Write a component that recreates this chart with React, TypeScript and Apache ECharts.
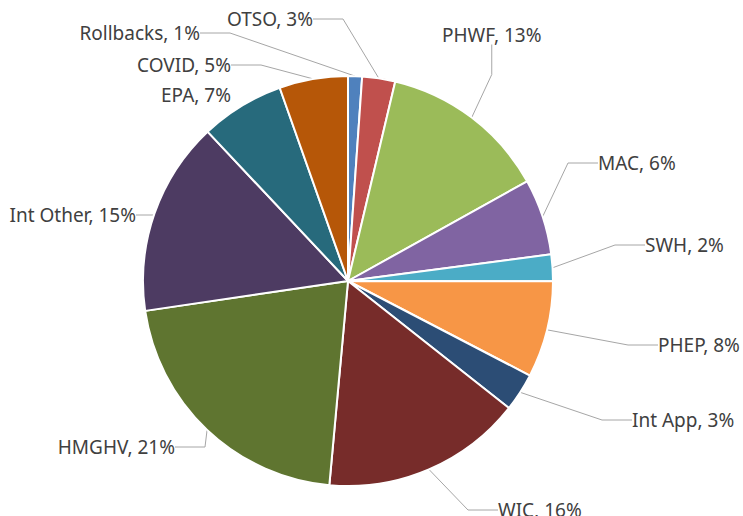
import React, { useEffect, useRef } from "react";
import * as echarts from "echarts";

const categories = ["Rollbacks", "OTSO", "PHWF", "MAC", "SWH", "PHEP", "Int App", "WIC", "HMGHV", "Int Other", "EPA", "COVID"];
const values = [1.1, 2.6, 13.2, 6.0, 2.1, 7.6, 3.0, 15.8, 21.2, 15.3, 6.6, 5.4];
const colors = ["#4F81BD", "#C0504D", "#9BBB59", "#8064A2", "#4BACC6", "#F79646", "#2C4D75", "#772C2A", "#5F7530", "#4D3B62", "#276A7C", "#B65708"];

// label placement (x, y of text anchor, alignment, leader line)
const labelPlacement: { x: number; y: number; align: "left" | "right"; line: boolean }[] = [
  { x: 200, y: 33, align: "right", line: true },   // Rollbacks
  { x: 313, y: 19, align: "right", line: true },   // OTSO
  { x: 442, y: 35, align: "left", line: true },    // PHWF
  { x: 598, y: 163, align: "left", line: true },   // MAC
  { x: 645, y: 245, align: "left", line: true },   // SWH
  { x: 658, y: 345, align: "left", line: true },   // PHEP
  { x: 632, y: 420, align: "left", line: true },   // Int App
  { x: 498, y: 510, align: "left", line: true },   // WIC
  { x: 175, y: 447, align: "right", line: true },  // HMGHV
  { x: 136, y: 215, align: "right", line: true },  // Int Other
  { x: 231, y: 95, align: "right", line: false },  // EPA
  { x: 231, y: 65, align: "right", line: true },   // COVID
];

export default function App() {
  const ref = useRef<HTMLDivElement>(null);
  useEffect(() => {
    document.body.style.margin = "0";
    const chart = echarts.init(ref.current!, null, { renderer: "svg" });
    chart.setOption({
      animation: false,
      backgroundColor: "#ffffff",
      series: [
        {
          type: "pie",
          center: [348, 281],
          radius: 205,
          startAngle: 90,
          clockwise: true,
          avoidLabelOverlap: false,
          data: categories.map((name, i) => ({
            name,
            value: values[i],
            itemStyle: { color: colors[i] },
            labelLine: { show: labelPlacement[i].line },
          })),
          itemStyle: { borderColor: "#ffffff", borderWidth: 2 },
          label: {
            show: true,
            position: "outside",
            color: "#404040",
            fontFamily: "Noto Sans",
            fontSize: 19,
            formatter: (p: any) => `${p.name}, ${Math.round(p.percent)}%`,
          },
          labelLine: {
            show: true,
            lineStyle: { color: "#A6A6A6", width: 1 },
            smooth: false,
          },
          labelLayout: (params: any) => {
            const lp = labelPlacement[params.dataIndex];
            return {
              x: lp.x,
              y: lp.y,
              align: lp.align,
              verticalAlign: "middle",
            };
          },
        },
      ],
    });
    return () => chart.dispose();
  }, []);
  return <div ref={ref} style={{ width: 743, height: 516 }} />;
}
